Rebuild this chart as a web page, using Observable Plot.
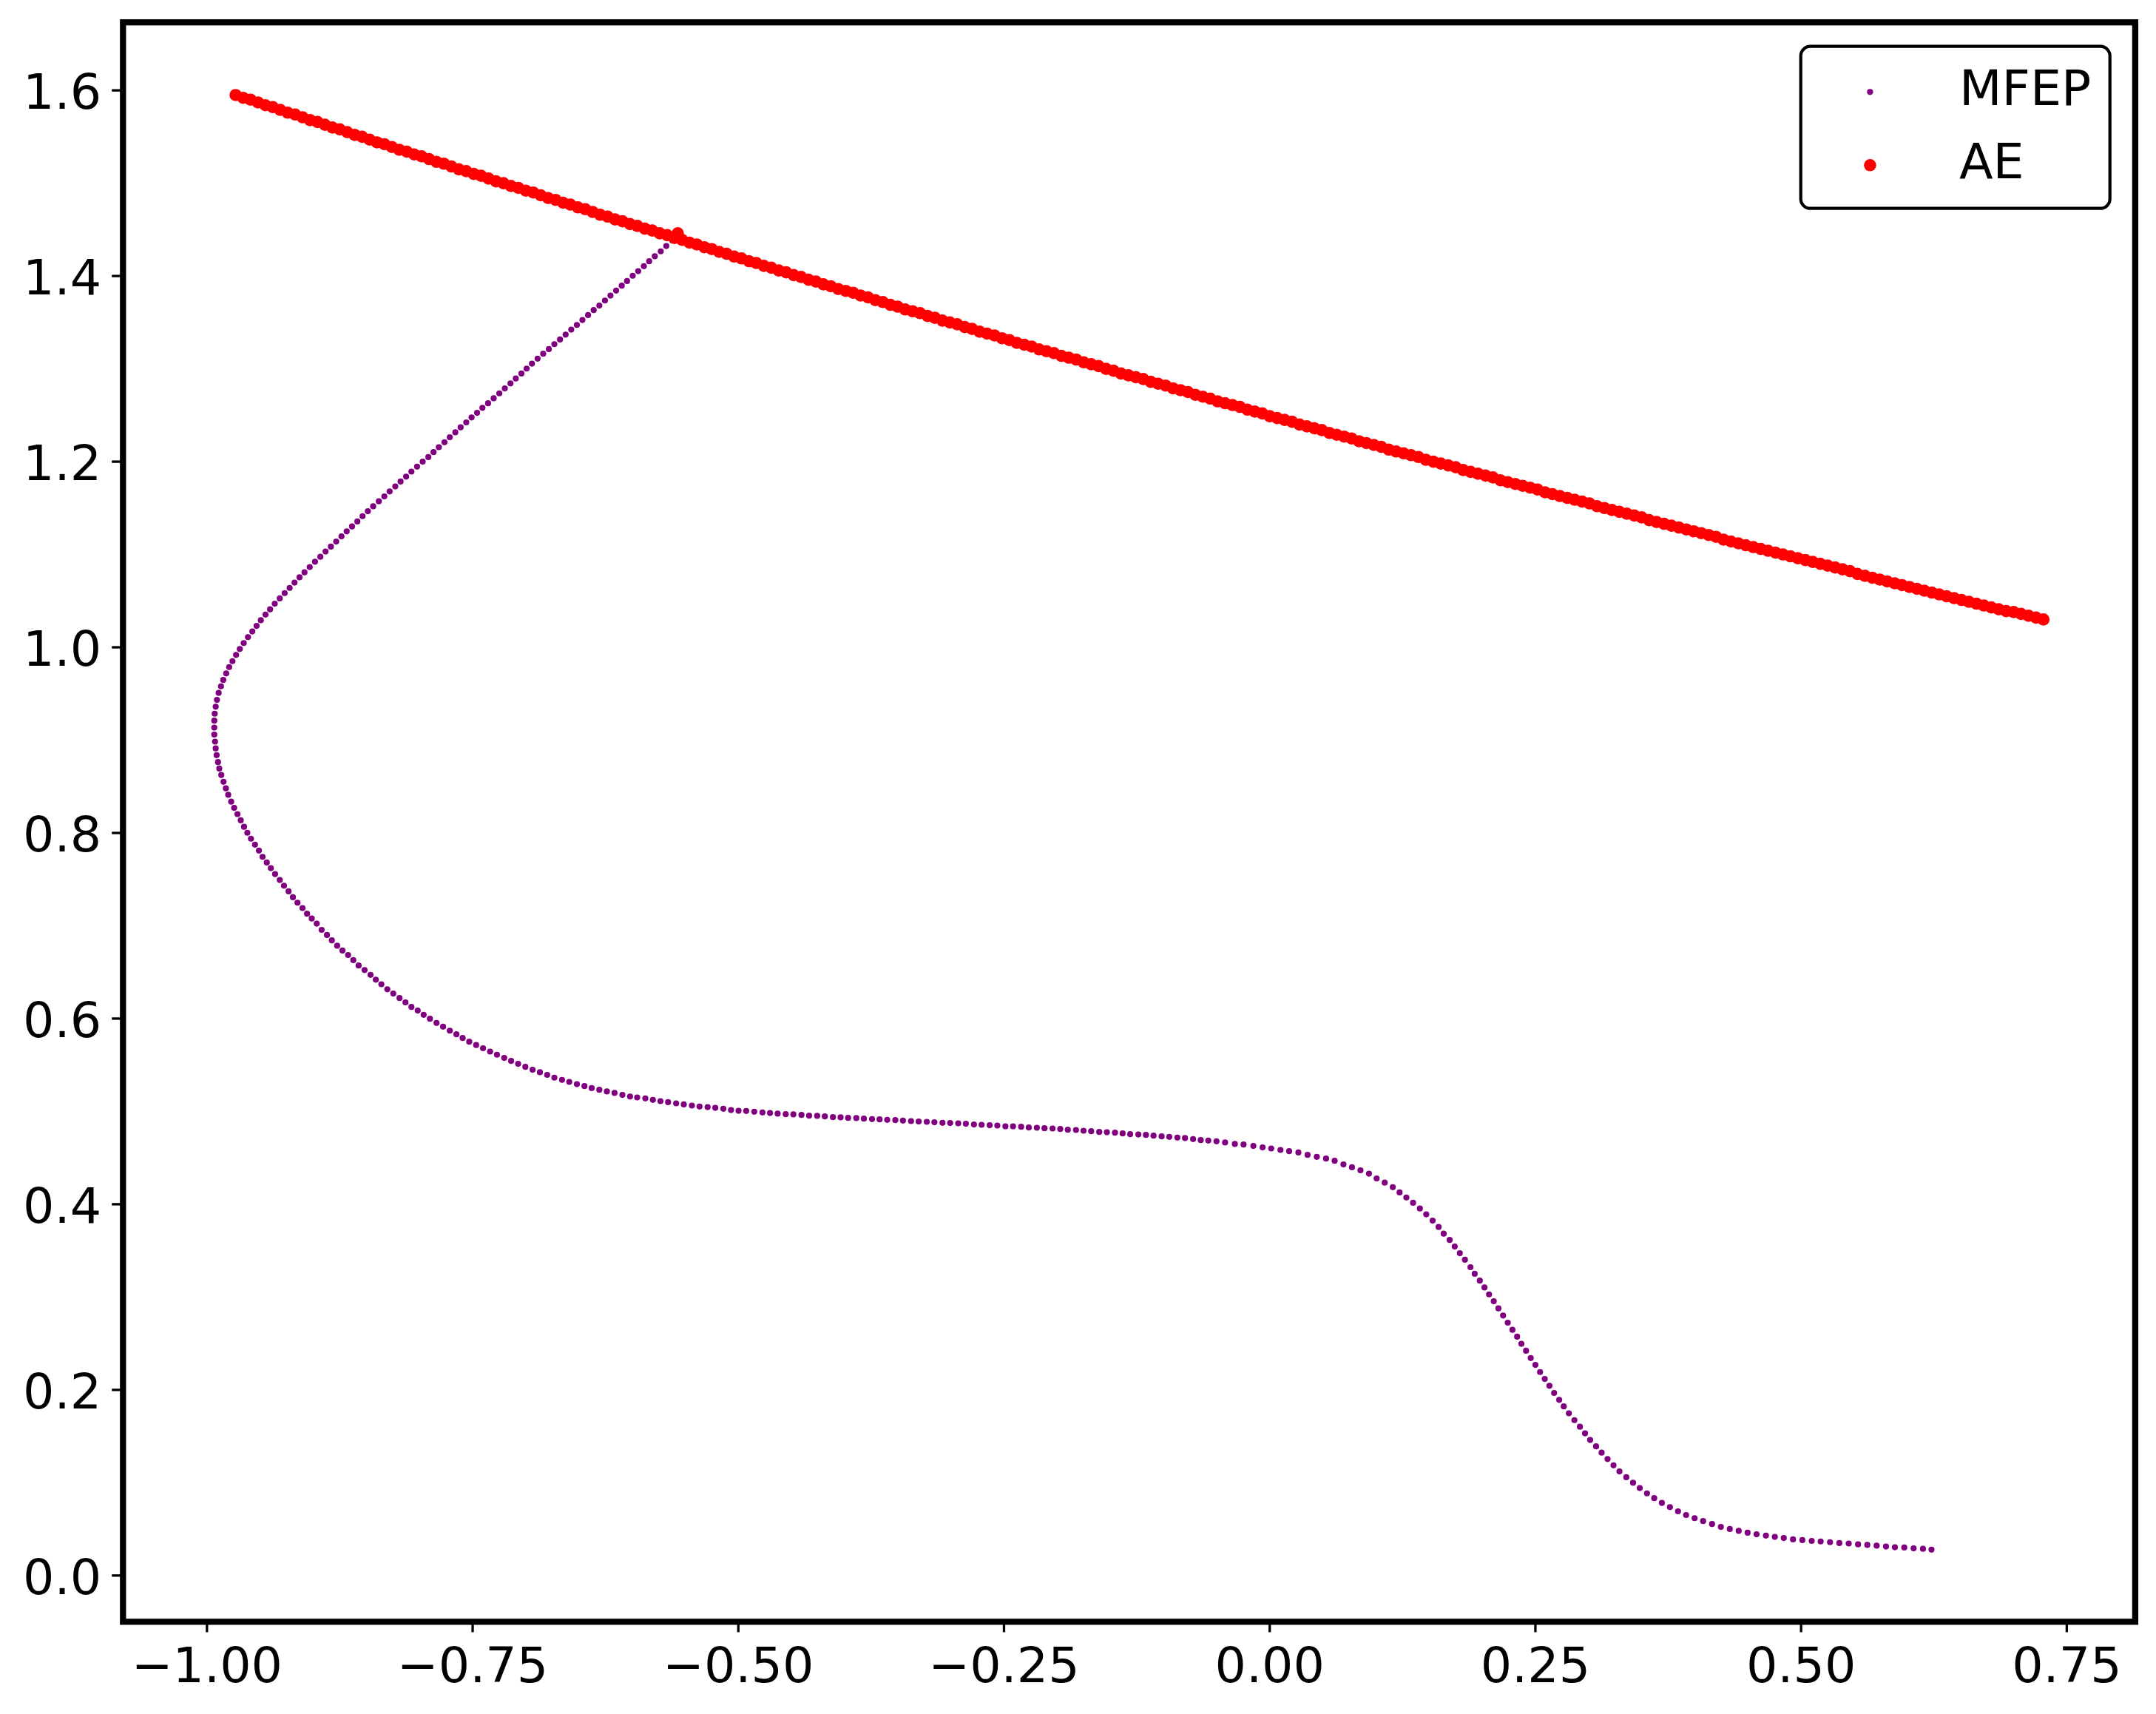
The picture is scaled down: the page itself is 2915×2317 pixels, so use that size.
<!DOCTYPE html>
<html><head><meta charset="utf-8">
<script src="https://cdn.jsdelivr.net/npm/d3@7"></script>
<script src="https://cdn.jsdelivr.net/npm/@observablehq/plot@0.6"></script>
<style>
html,body{margin:0;padding:0;background:#fff;overflow:hidden;}
#wrap{position:relative;width:2915px;height:2317px;overflow:hidden;}
#wrap > svg{display:block;}
#legend{position:absolute;left:2420px;top:50px;}
</style></head><body><div id="wrap"></div>
<script>
const xTicks = [-1, -0.75, -0.5, -0.25, 0, 0.25, 0.5, 0.75];
const yTicks = [0, 0.2, 0.4, 0.6, 0.8, 1.0, 1.2, 1.4, 1.6];
const seriesNames = ["MFEP", "AE"];
const seriesColors = ["purple", "red"];

const mfepX = [
-0.5570,-0.5622,-0.5678,-0.5730,-0.5786,-0.5839,-0.5889,-0.5942,-0.5994,-0.6047,
-0.6097,-0.6150,-0.6203,-0.6255,-0.6308,-0.6361,-0.6414,-0.6467,-0.6519,-0.6572,
-0.6625,-0.6678,-0.6731,-0.6783,-0.6836,-0.6889,-0.6942,-0.6992,-0.7041,-0.7094,
-0.7144,-0.7197,-0.7249,-0.7302,-0.7355,-0.7408,-0.7458,-0.7510,-0.7560,-0.7613,
-0.7663,-0.7715,-0.7765,-0.7818,-0.7868,-0.7917,-0.7970,-0.8023,-0.8076,-0.8126,
-0.8178,-0.8228,-0.8281,-0.8331,-0.8383,-0.8436,-0.8486,-0.8536,-0.8585,-0.8635,
-0.8685,-0.8734,-0.8784,-0.8834,-0.8884,-0.8933,-0.8983,-0.9033,-0.9082,-0.9129,
-0.9176,-0.9222,-0.9269,-0.9315,-0.9362,-0.9406,-0.9449,-0.9493,-0.9533,-0.9573,
-0.9614,-0.9654,-0.9691,-0.9726,-0.9760,-0.9791,-0.9819,-0.9847,-0.9868,-0.9890,
-0.9906,-0.9918,-0.9927,-0.9931,-0.9931,
-0.9931,-0.9924,-0.9918,-0.9909,-0.9896,-0.9884,-0.9865,-0.9844,-0.9822,-0.9800,
-0.9772,-0.9744,-0.9713,-0.9682,-0.9651,-0.9620,-0.9586,-0.9548,-0.9511,-0.9477,
-0.9437,-0.9399,-0.9359,-0.9315,-0.9275,-0.9232,-0.9191,-0.9148,-0.9101,-0.9058,
-0.9014,-0.8967,-0.8921,-0.8871,-0.8825,-0.8775,-0.8725,-0.8672,-0.8623,-0.8573,
-0.8517,-0.8461,-0.8411,-0.8359,-0.8303,-0.8247,-0.8188,-0.8132,-0.8076,-0.8017,
-0.7961,-0.7902,-0.7840,-0.7778,-0.7715,-0.7653,-0.7594,-0.7532,-0.7467,-0.7402,
-0.7336,-0.7271,-0.7203,-0.7138,-0.7072,-0.7004,-0.6936,-0.6867,-0.6799,-0.6731,
-0.6659,-0.6591,-0.6519,-0.6448,-0.6380,-0.6308,-0.6237,-0.6165,-0.6091,-0.6019,
-0.5952,-0.5875,-0.5804,-0.5733,-0.5661,-0.5585,-0.5513,-0.5437,-0.5365,-0.5289,
-0.5217,-0.5141,-0.5069,-0.4998,-0.4926,-0.4850,-0.4773,-0.4702,-0.4630,-0.4554,
-0.4482,-0.4406,-0.4334,-0.4258,-0.4186,-0.4110,-0.4038,-0.3967,-0.3890,-0.3819,
-0.3742,-0.3671,-0.3599,-0.3523,-0.3451,-0.3375,-0.3303,-0.3227,-0.3155,-0.3079,
-0.3007,-0.2931,-0.2859,-0.2783,-0.2711,-0.2635,-0.2563,-0.2487,-0.2415,-0.2339,
-0.2267,-0.2191,-0.2119,-0.2043,-0.1971,-0.1900,-0.1823,-0.1752,-0.1680,-0.1604,
-0.1532,-0.1456,-0.1384,-0.1313,-0.1236,-0.1165,-0.1093,-0.1017,-0.0945,-0.0869,
-0.0797,-0.0721,-0.0649,-0.0578,-0.0501,-0.0420,-0.0328,-0.0246,-0.0154,-0.0067,
0.0014,0.0101,0.0183,0.0270,0.0356,0.0443,0.0530,0.0611,
0.0694,0.0774,0.0854,0.0934,0.1006,0.1082,0.1158,0.1222,0.1286,0.1349,
0.1413,0.1473,0.1533,0.1589,0.1637,0.1693,0.1741,0.1789,0.1837,0.1889,
0.1929,0.1977,0.2021,0.2064,0.2108,0.2152,0.2196,0.2240,0.2284,0.2328,
0.2368,0.2412,0.2456,0.2500,0.2544,0.2588,0.2632,0.2676,0.2724,0.2767,
0.2815,0.2867,0.2919,0.2967,0.3015,0.3071,0.3123,0.3179,0.3235,0.3291,
0.3355,0.3419,0.3482,0.3550,0.3618,0.3690,0.3766,0.3842,0.3918,0.3998,
0.4078,0.4162,0.4245,0.4329,0.4413,0.4497,0.4581,0.4669,0.4753,0.4837,
0.4924,0.5012,0.5100,0.5184,0.5272,0.5360,0.5448,0.5536,0.5623,0.5711,
0.5799,0.5883,0.5971,0.6059,0.6147,0.6227
];
const mfepY = [
1.4436,1.4383,1.4323,1.4266,1.4213,1.4159,1.4106,1.4052,1.4003,1.3946,
1.3896,1.3843,1.3789,1.3736,1.3682,1.3633,1.3579,1.3526,1.3473,1.3423,
1.3369,1.3316,1.3266,1.3213,1.3163,1.3110,1.3056,1.3003,1.2950,1.2896,
1.2843,1.2789,1.2736,1.2683,1.2629,1.2580,1.2526,1.2476,1.2423,1.2370,
1.2316,1.2263,1.2209,1.2156,1.2103,1.2049,1.2000,1.1946,1.1893,1.1839,
1.1786,1.1733,1.1679,1.1626,1.1573,1.1519,1.1466,1.1413,1.1356,1.1302,
1.1249,1.1195,1.1139,1.1085,1.1032,1.0975,1.0922,1.0865,1.0808,1.0754,
1.0697,1.0640,1.0584,1.0527,1.0470,1.0409,1.0352,1.0292,1.0231,1.0171,
1.0110,1.0046,0.9982,0.9918,0.9851,0.9787,0.9719,0.9648,0.9580,0.9509,
0.9434,0.9360,0.9285,0.9210,0.9135,
0.9060,0.8984,0.8911,0.8838,0.8764,0.8694,0.8624,0.8551,0.8481,0.8411,
0.8337,0.8270,0.8203,0.8136,0.8066,0.8002,0.7938,0.7874,0.7810,0.7743,
0.7682,0.7621,0.7557,0.7493,0.7432,0.7371,0.7307,0.7249,0.7191,0.7130,
0.7078,0.7023,0.6956,0.6901,0.6843,0.6785,0.6733,0.6685,0.6630,0.6572,
0.6523,0.6471,0.6419,0.6370,0.6316,0.6270,0.6221,0.6175,0.6126,0.6087,
0.6041,0.5998,0.5953,0.5913,0.5870,0.5831,0.5791,0.5751,0.5715,0.5681,
0.5645,0.5611,0.5577,0.5544,0.5513,0.5480,0.5449,0.5422,0.5394,0.5364,
0.5340,0.5318,0.5294,0.5273,0.5251,0.5233,0.5215,0.5199,0.5178,0.5160,
0.5151,0.5140,0.5124,0.5111,0.5100,0.5087,0.5076,0.5063,0.5053,0.5047,
0.5039,0.5029,0.5015,0.5007,0.5005,0.4997,0.4989,0.4983,0.4976,0.4970,
0.4968,0.4962,0.4954,0.4952,0.4946,0.4938,0.4936,0.4930,0.4928,0.4922,
0.4917,0.4914,0.4909,0.4906,0.4901,0.4896,0.4891,0.4888,0.4883,0.4877,
0.4875,0.4872,0.4867,0.4859,0.4856,0.4851,0.4848,0.4840,0.4840,0.4835,
0.4827,0.4824,0.4819,0.4816,0.4811,0.4803,0.4800,0.4792,0.4787,0.4779,
0.4776,0.4771,0.4763,0.4755,0.4752,0.4747,0.4739,0.4731,0.4726,0.4718,
0.4713,0.4702,0.4691,0.4686,0.4678,0.4665,0.4649,0.4643,0.4628,0.4612,
0.4601,0.4585,0.4572,0.4558,0.4532,0.4511,0.4492,0.4468,
0.4429,0.4398,0.4366,0.4329,0.4278,0.4233,0.4184,0.4127,0.4073,0.4016,
0.3954,0.3891,0.3823,0.3755,0.3683,0.3615,0.3544,0.3473,0.3402,0.3322,
0.3251,0.3177,0.3103,0.3029,0.2955,0.2878,0.2801,0.2724,0.2647,0.2573,
0.2496,0.2422,0.2343,0.2269,0.2192,0.2118,0.2044,0.1967,0.1893,0.1822,
0.1748,0.1674,0.1603,0.1532,0.1460,0.1392,0.1324,0.1255,0.1187,0.1122,
0.1059,0.0999,0.0942,0.0885,0.0834,0.0783,0.0737,0.0692,0.0652,0.0618,
0.0587,0.0555,0.0524,0.0501,0.0481,0.0461,0.0444,0.0430,0.0416,0.0404,
0.0390,0.0382,0.0373,0.0367,0.0359,0.0350,0.0345,0.0336,0.0330,0.0322,
0.0313,0.0305,0.0302,0.0293,0.0288,0.0279
];

const aeX = [
-0.973,-0.966,-0.959,-0.952,-0.945,-0.938,-0.931,-0.924,-0.917,-0.910,
-0.903,-0.896,-0.889,-0.882,-0.875,-0.868,-0.861,-0.854,-0.847,-0.840,
-0.833,-0.826,-0.819,-0.812,-0.805,-0.798,-0.791,-0.784,-0.777,-0.770,
-0.763,-0.756,-0.749,-0.742,-0.735,-0.728,-0.721,-0.714,-0.707,-0.700,
-0.693,-0.686,-0.679,-0.672,-0.665,-0.658,-0.651,-0.644,-0.637,-0.630,
-0.623,-0.616,-0.609,-0.602,-0.595,-0.588,-0.581,-0.574,-0.567,-0.560,
-0.553,-0.546,-0.539,-0.532,-0.525,-0.518,-0.511,-0.504,-0.497,-0.490,
-0.483,-0.476,-0.469,-0.462,-0.455,-0.448,-0.441,-0.434,-0.427,-0.420,
-0.413,-0.406,-0.399,-0.392,-0.385,-0.378,-0.371,-0.364,-0.357,-0.350,
-0.343,-0.336,-0.329,-0.322,-0.315,-0.308,-0.301,-0.294,-0.287,-0.280,
-0.273,-0.266,-0.259,-0.252,-0.245,-0.238,-0.231,-0.224,-0.217,-0.210,
-0.203,-0.196,-0.189,-0.182,-0.175,-0.168,-0.161,-0.154,-0.147,-0.140,
-0.133,-0.126,-0.119,-0.112,-0.105,-0.098,-0.091,-0.084,-0.077,-0.070,
-0.063,-0.056,-0.049,-0.042,-0.035,-0.028,-0.021,-0.014,-0.007,0.000,
0.007,0.014,0.021,0.028,0.035,0.042,0.049,0.056,0.063,0.070,
0.077,0.084,0.091,0.098,0.105,0.112,0.119,0.126,0.133,0.140,
0.147,0.154,0.161,0.168,0.175,0.182,0.189,0.196,0.203,0.210,
0.217,0.224,0.231,0.238,0.245,0.252,0.259,0.266,0.273,0.280,
0.287,0.294,0.301,0.308,0.315,0.322,0.329,0.336,0.343,0.350,
0.357,0.364,0.371,0.378,0.385,0.392,0.399,0.406,0.413,0.420,
0.427,0.434,0.441,0.448,0.455,0.462,0.469,0.476,0.483,0.490,
0.497,0.504,0.511,0.518,0.525,0.532,0.539,0.546,0.553,0.560,
0.567,0.574,0.581,0.588,0.595,0.602,0.609,0.616,0.623,0.630,
0.637,0.644,0.651,0.658,0.665,0.672,0.679,0.686,0.693,0.700,
0.707,0.714,0.721,0.728,
-0.557
];
const aeY = [
1.595,1.592,1.590,1.587,1.584,1.582,1.579,1.576,1.574,1.571,
1.568,1.566,1.563,1.560,1.558,1.555,1.552,1.550,1.547,1.544,
1.542,1.539,1.536,1.534,1.531,1.529,1.526,1.523,1.521,1.518,
1.515,1.513,1.510,1.508,1.505,1.502,1.500,1.497,1.495,1.492,
1.490,1.487,1.484,1.482,1.479,1.477,1.474,1.472,1.469,1.466,
1.464,1.461,1.459,1.456,1.454,1.451,1.449,1.446,1.444,1.441,
1.439,1.436,1.434,1.431,1.429,1.426,1.424,1.421,1.419,1.416,
1.414,1.411,1.409,1.406,1.404,1.401,1.399,1.396,1.394,1.391,
1.389,1.386,1.384,1.382,1.379,1.377,1.374,1.372,1.369,1.367,
1.364,1.362,1.360,1.357,1.355,1.352,1.350,1.348,1.345,1.343,
1.340,1.338,1.336,1.333,1.331,1.328,1.326,1.324,1.321,1.319,
1.317,1.314,1.312,1.310,1.307,1.305,1.303,1.300,1.298,1.295,
1.293,1.291,1.289,1.286,1.284,1.282,1.279,1.277,1.275,1.272,
1.270,1.268,1.265,1.263,1.261,1.259,1.256,1.254,1.252,1.249,
1.247,1.245,1.243,1.240,1.238,1.236,1.234,1.231,1.229,1.227,
1.225,1.222,1.220,1.218,1.216,1.213,1.211,1.209,1.207,1.205,
1.202,1.200,1.198,1.196,1.194,1.191,1.189,1.187,1.185,1.183,
1.180,1.178,1.176,1.174,1.172,1.170,1.167,1.165,1.163,1.161,
1.159,1.157,1.155,1.152,1.150,1.148,1.146,1.144,1.142,1.140,
1.137,1.135,1.133,1.131,1.129,1.127,1.125,1.123,1.121,1.119,
1.116,1.114,1.112,1.110,1.108,1.106,1.104,1.102,1.100,1.098,
1.096,1.094,1.092,1.090,1.088,1.086,1.084,1.082,1.079,1.077,
1.075,1.073,1.071,1.069,1.067,1.065,1.063,1.061,1.059,1.057,
1.055,1.053,1.051,1.049,1.047,1.045,1.043,1.041,1.039,1.038,
1.036,1.034,1.032,1.030,
1.446
];

const FONT = "DejaVu Sans";
const FS = 66.7;

const chart = Plot.plot({
  width: 2915,
  height: 2317,
  marginLeft: 165.8,
  marginRight: 28.6,
  marginTop: 29.7,
  marginBottom: 125.2,
  style: {fontFamily: FONT, fontSize: FS + "px", background: "white", color: "black", overflow: "visible"},
  x: {domain: [-1.079, 0.8144], label: null},
  y: {domain: [-0.0498, 1.6733], label: null},
  marks: [
    Plot.dot(mfepX, {x: mfepX, y: mfepY, r: 4.1, fill: seriesColors[0]}),
    Plot.dot(aeX, {x: aeX, y: aeY, r: 8.3, fill: seriesColors[1]}),
    Plot.axisX(xTicks, {tickSize: 14.6, tickFormat: () => "", strokeWidth: 3.3, label: null}),
    Plot.axisX(xTicks, {tickSize: 0, tickPadding: 34.1, tickFormat: d3.format(".2f"), fontSize: FS, label: null}),
    Plot.axisY(yTicks, {tickSize: 14.6, tickFormat: () => "", strokeWidth: 3.3, label: null}),
    Plot.axisY(yTicks, {tickSize: 0, tickPadding: 29.2, tickFormat: d3.format(".1f"), fontSize: FS, dy: 3.5, label: null}),
    Plot.frame({stroke: "black", strokeWidth: 8.3})
  ]
});

const wrap = document.getElementById("wrap");
wrap.appendChild(chart);

// legend (inside the axes, upper right), as in the reference
const lg = d3.create("svg")
  .attr("id", "legend")
  .attr("width", 450)
  .attr("height", 250)
  .style("font-family", FONT);
lg.append("rect")
  .attr("x", 14.7).attr("y", 12.7)
  .attr("width", 418).attr("height", 219)
  .attr("rx", 13).attr("ry", 13)
  .attr("fill", "white").attr("stroke", "black").attr("stroke-width", 4.2);
const legendR = [4.1, 8.3];
seriesNames.forEach((name, i) => {
  const cy = 74.3 + i * 99;
  lg.append("circle").attr("cx", 108.4).attr("cy", cy).attr("r", legendR[i]).attr("fill", seriesColors[i]);
  lg.append("text").attr("x", 229).attr("y", cy + 17.4)
    .attr("font-size", FS).attr("fill", "black").text(name);
});
wrap.appendChild(lg.node());
</script>
</body></html>
